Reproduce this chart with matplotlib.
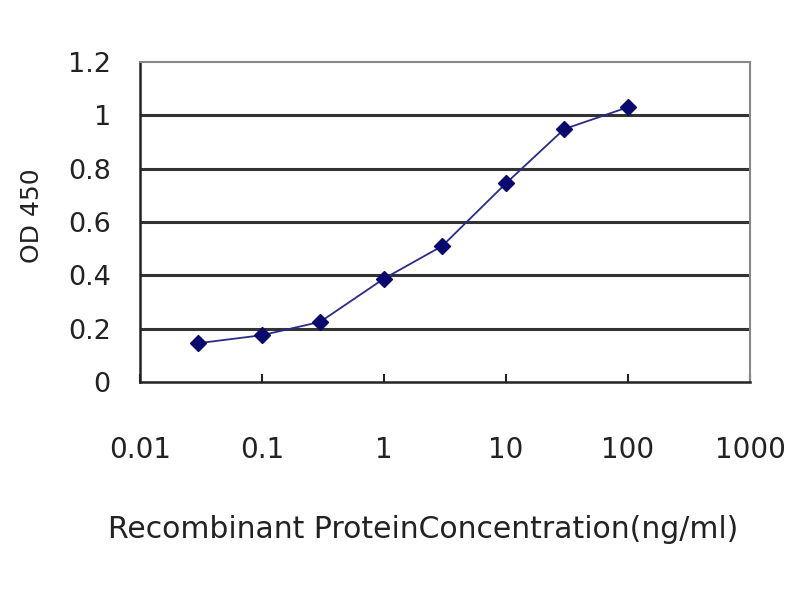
import matplotlib
matplotlib.use("Agg")
import matplotlib.pyplot as plt

concentration = [0.03, 0.1, 0.3, 1, 3, 10, 30, 100]
od450 = [0.146, 0.176, 0.226, 0.388, 0.51, 0.745, 0.948, 1.03]
x_ticks = [0.01, 0.1, 1, 10, 100, 1000]
x_tick_labels = ["0.01", "0.1", "1", "10", "100", "1000"]
y_ticks = [0, 0.2, 0.4, 0.6, 0.8, 1.0, 1.2]
y_tick_labels = ["0", "0.2", "0.4", "0.6", "0.8", "1", "1.2"]

plt.rcParams['font.family'] = ['DejaVu Sans']

fig = plt.figure(figsize=(8, 6), dpi=100)
ax = fig.add_axes([0.175, 0.363, 0.7625, 0.534])

ax.set_xscale('log')
ax.set_xlim(0.01, 1000)
ax.set_ylim(0, 1.2)

for y in y_ticks[1:-1]:
    ax.axhline(y, color='#333333', lw=2.2, zorder=1)

ax.plot(concentration, od450, color='#2a2a8a', lw=1.3, marker='D', markersize=8,
        markerfacecolor='#0a0a6e', markeredgecolor='#0a0a6e', zorder=3)

ax.set_xticks(x_ticks)
ax.set_xticklabels(x_tick_labels, fontsize=20)
ax.minorticks_off()
ax.set_yticks(y_ticks)
ax.set_yticklabels(y_tick_labels, fontsize=19.5)

ax.tick_params(axis='x', direction='in', length=6, width=1.5, pad=39, colors='#222222')
ax.tick_params(axis='y', length=0, pad=21, colors='#222222')
for lbl in ax.get_xticklabels() + ax.get_yticklabels():
    lbl.set_color('#222222')

for side in ['left', 'bottom']:
    ax.spines[side].set_color('#222222')
    ax.spines[side].set_linewidth(1.8)
for side in ['top', 'right']:
    ax.spines[side].set_color('#888888')
    ax.spines[side].set_linewidth(1.5)

ax.set_xlabel('Recombinant ProteinConcentration(ng/ml)', fontsize=21.5, color='#222222')
ax.xaxis.set_label_coords(0.464, -0.415)
ax.set_ylabel('OD 450', fontsize=18, color='#222222')
ax.yaxis.set_label_coords(-0.158, 0.52)

fig.savefig('out.png', dpi=100)
